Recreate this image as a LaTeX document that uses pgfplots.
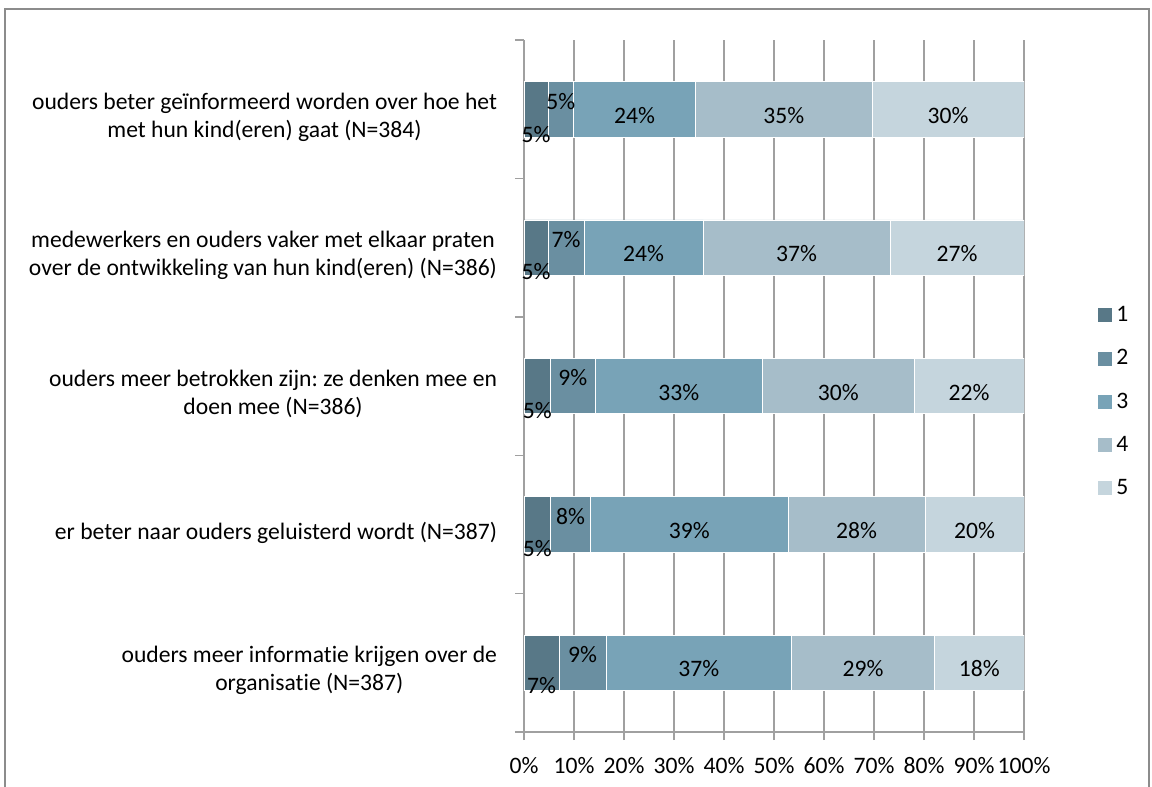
\documentclass[border=0pt]{standalone}
\usepackage{pgfplots}
\pgfplotsset{compat=1.18}
\usepackage{pgfplotstable}
\usepackage{fontspec}
\setmainfont{Carlito}[Ligatures={NoCommon,NoContextual}]
\frenchspacing
\definecolor{cA}{HTML}{587887}
\definecolor{cB}{HTML}{6A8FA1}
\definecolor{cC}{HTML}{78A3B7}
\definecolor{cD}{HTML}{A6BDC9}
\definecolor{cE}{HTML}{C5D5DD}
\definecolor{gridc}{HTML}{A0A0A0}
\definecolor{framec}{HTML}{8C8C8C}
\newcommand{\lbfont}{\fontsize{11.8}{14}\selectfont}

% values (%) per category (0 = top row)
\pgfplotstableread{
y  s1   s2   s3   s4   s5
0  4.8  5.1  24.4 35.3 30.4
1  4.8  7.2  23.8 37.4 26.8
2  5.3  8.9  33.5 30.3 22.0
3  5.3  8.0  39.5 27.4 19.8
4  7.0  9.4  37.1 28.6 17.9
}\data

% data label positions (segment midpoints) and texts
\pgfplotstableread{
x     y      lab
2.4   0.18   5\%
7.35  -0.058 5\%
22.1  0.045  24\%
51.95 0.045  35\%
84.8  0.045  30\%
2.4   1.175  5\%
8.4   0.942  7\%
23.9  1.045  24\%
54.5  1.045  37\%
86.6  1.045  27\%
2.65  2.175  5\%
9.75  1.942  9\%
30.95 2.045  33\%
62.85 2.045  30\%
89.0  2.045  22\%
2.65  3.175  5\%
9.3   2.942  8\%
33.05 3.045  39\%
66.5  3.045  28\%
90.1  3.045  20\%
3.5   4.165  7\%
11.7  3.942  9\%
34.95 4.045  37\%
67.8  4.045  29\%
91.05 4.045  18\%
}\labels

\pgfplotsset{
  leg/.style={legend image code/.code={\fill[##1,draw=none] (0pt,-3.5pt) rectangle (7pt,3.5pt);}},
  common/.style={
    at={(262pt,27.5pt)}, anchor=south west,
    width=250pt, height=346pt, scale only axis,
    xmin=0, xmax=100, ymin=-0.5, ymax=4.5, y dir=reverse,
  }
}

\begin{document}
\begin{tikzpicture}
\useasboundingbox (0,0) rectangle (576pt,393.5pt);
\draw[framec, line width=0.8pt] (2.5pt,-20pt) rectangle (574.5pt,389pt);

\begin{axis}[
  common,
  xbar stacked,
  bar width=0.4,
  axis lines=left,
  axis line style={gridc, line width=0.7pt, -},
  xtick={0,10,...,100},
  xticklabels={0\%,10\%,20\%,30\%,40\%,50\%,60\%,70\%,80\%,90\%,100\%},
  xmajorgrids,
  grid style={gridc, line width=0.7pt},
  tick align=outside,
  major tick length=4pt,
  minor tick length=4.5pt,
  tick style={gridc, line width=0.7pt},
  major y tick style={draw=none},
  ytick={0,1,2,3,4},
  minor ytick={-0.5,0.5,1.5,2.5,3.5,4.5},
  yticklabels={
    {ouders beter geïnformeerd worden over hoe het\\met hun kind(eren) gaat (N=384)},
    {medewerkers en ouders vaker met elkaar praten\\over de ontwikkeling van hun kind(eren) (N=386)},
    {ouders meer betrokken zijn: ze denken mee en\\doen mee (N=386)},
    {er beter naar ouders geluisterd wordt (N=387)},
    {ouders meer informat\kern0pt ie krijgen over de\\organisat\kern0pt ie (N=387)}
  },
  yticklabel style={align=center, font=\lbfont, xshift=-6pt, yshift=-4pt},
  xticklabel style={font=\lbfont, yshift=-5pt},
  legend style={draw=none, fill=none, at={(1.136,0.477)}, anchor=west,
    font=\lbfont, row sep=8.5pt,
    /tikz/every odd column/.append style={column sep=0pt}},
  legend cell align=left,
]
\addplot[fill=cA, draw=white, line width=0.3pt, leg] table[x=s1, y=y] {\data};
\addplot[fill=cB, draw=white, line width=0.3pt, leg] table[x=s2, y=y] {\data};
\addplot[fill=cC, draw=white, line width=0.3pt, leg] table[x=s3, y=y] {\data};
\addplot[fill=cD, draw=white, line width=0.3pt, leg] table[x=s4, y=y] {\data};
\addplot[fill=cE, draw=white, line width=0.3pt, leg] table[x=s5, y=y] {\data};
\legend{1,2,3,4,5}
\end{axis}

\begin{axis}[common, hide axis]
\addplot[only marks, mark=none, nodes near coords, point meta=explicit symbolic,
  every node near coord/.append style={anchor=center, font=\lbfont, inner sep=0pt}]
  table[x=x, y=y, meta=lab] {\labels};
\end{axis}
\end{tikzpicture}
\end{document}
